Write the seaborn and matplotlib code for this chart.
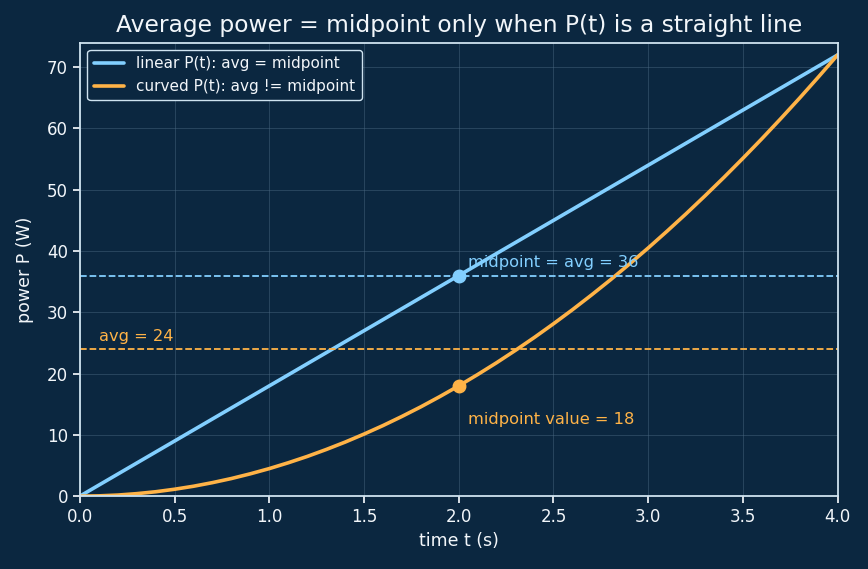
import numpy as np
import pandas as pd
import seaborn as sns
import matplotlib.pyplot as plt

# values
t = [0.0, 0.1, 0.2, 0.3, 0.4, 0.5, 0.6, 0.7, 0.8, 0.9, 1.0,
     1.1, 1.2, 1.3, 1.4, 1.5, 1.6, 1.7, 1.8, 1.9, 2.0,
     2.1, 2.2, 2.3, 2.4, 2.5, 2.6, 2.7, 2.8, 2.9, 3.0,
     3.1, 3.2, 3.3, 3.4, 3.5, 3.6, 3.7, 3.8, 3.9, 4.0]
p_linear = [0.0, 1.8, 3.6, 5.4, 7.2, 9.0, 10.8, 12.6, 14.4, 16.2, 18.0,
            19.8, 21.6, 23.4, 25.2, 27.0, 28.8, 30.6, 32.4, 34.2, 36.0,
            37.8, 39.6, 41.4, 43.2, 45.0, 46.8, 48.6, 50.4, 52.2, 54.0,
            55.8, 57.6, 59.4, 61.2, 63.0, 64.8, 66.6, 68.4, 70.2, 72.0]
p_curved = [0.0, 0.05, 0.18, 0.41, 0.72, 1.13, 1.62, 2.21, 2.88, 3.65, 4.5,
            5.45, 6.48, 7.61, 8.82, 10.13, 11.52, 13.01, 14.58, 16.25, 18.0,
            19.85, 21.78, 23.81, 25.92, 28.13, 30.42, 32.81, 35.28, 37.85, 40.5,
            43.25, 46.08, 49.01, 52.02, 55.13, 58.32, 61.61, 64.98, 68.45, 72.0]
avg_linear = 36
avg_curved = 24
mid_t = 2.0
mid_linear = 36
mid_curved = 18

bg = '#0b2740'
fg = '#f2f6fa'
blue = '#82cfff'
orange = '#ffb347'

sns.set_theme(style='darkgrid')
plt.rcParams.update({
    'figure.facecolor': bg, 'axes.facecolor': bg,
    'axes.edgecolor': '#cfe3f0', 'grid.color': '#4a6780',
    'text.color': fg, 'axes.labelcolor': fg,
    'xtick.color': fg, 'ytick.color': fg,
})
plt.rcParams['font.family'] = ['DejaVu Sans']

df = pd.DataFrame({'t': t, 'linear': p_linear, 'curved': p_curved})

fig, ax = plt.subplots(figsize=(8.68, 5.69), dpi=100)
sns.lineplot(data=df, x='t', y='linear', ax=ax, color=blue, lw=2.6,
             label='linear P(t): avg = midpoint')
sns.lineplot(data=df, x='t', y='curved', ax=ax, color=orange, lw=2.6,
             label='curved P(t): avg != midpoint')

ax.axhline(avg_linear, color=blue, ls='--', lw=1.3)
ax.axhline(avg_curved, color=orange, ls='--', lw=1.3)
ax.plot([mid_t], [mid_linear], 'o', color=blue, ms=9)
ax.plot([mid_t], [mid_curved], 'o', color=orange, ms=9)

ax.text(2.05, 37.4, 'midpoint = avg = 36', color=blue, fontsize=11.7)
ax.text(0.1, 25.4, 'avg = 24', color=orange, fontsize=11.7)
ax.text(2.05, 11.8, 'midpoint value = 18', color=orange, fontsize=11.7)

ax.set_xlim(0, 4)
ax.set_ylim(0, 74)
ax.set_xticks(np.arange(0, 4.01, 0.5))
ax.grid(True, lw=0.6, alpha=0.55)
for s in ax.spines.values():
    s.set_visible(True)
    s.set_linewidth(1.3)
ax.tick_params(axis='both', which='both', length=5, labelsize=12, bottom=True, left=True)
ax.set_xlabel('time t (s)', fontsize=12.5)
ax.set_ylabel('power P (W)', fontsize=12.5, labelpad=9)
ax.set_title('Average power = midpoint only when P(t) is a straight line', fontsize=16.8, color=fg, pad=8)

leg = ax.legend(loc='upper left', fontsize=11, facecolor=bg, edgecolor='#cfe3f0', framealpha=1)
for txt in leg.get_texts():
    txt.set_color(fg)

plt.subplots_adjust(left=0.092, right=0.965, top=0.925, bottom=0.128)
plt.savefig('out.png', dpi=100, facecolor=bg)
